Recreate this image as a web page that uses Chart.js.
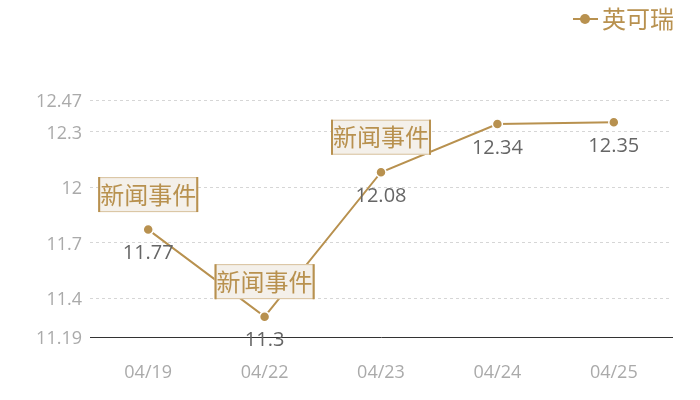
<!DOCTYPE html>
<html lang="en">
<head>
    <meta charset="UTF-8">
    <title>英可瑞</title>
    <script src="https://cdn.jsdelivr.net/npm/chart.js"></script>
    <style>
        html, body { margin: 0; padding: 0; background: #fff; }
        #wrap { width: 700px; height: 400px; }
    </style>
</head>
<body>
<div id="wrap"><canvas id="myChart"></canvas></div>

<script>
    var labels = ['04/19', '04/22', '04/23', '04/24', '04/25'];
    var prices = [11.77, 11.3, 12.08, 12.34, 12.35];
    var yTicks = [11.19, 11.4, 11.7, 12, 12.3, 12.47];
    var eventDays = ['04/19', '04/22', '04/23'];
    var eventText = '新闻事件';
    var seriesName = '英可瑞';

    var gold = '#b8914f';
    var cjk = '"Noto Sans CJK SC", sans-serif';
    var num = '"Open Sans", "Noto Sans CJK SC", sans-serif';

    var extras = {
        id: 'extras',
        afterDatasetsDraw: function(chart) {
            var ctx = chart.ctx;
            var meta = chart.getDatasetMeta(0);
            ctx.save();
            // value labels under each point
            ctx.font = '20px ' + num;
            ctx.fillStyle = '#666';
            ctx.textAlign = 'center';
            ctx.textBaseline = 'middle';
            meta.data.forEach(function(pt, i) {
                ctx.fillText(String(prices[i]), pt.x, pt.y + 24);
            });
            // news event boxes above points
            ctx.font = '24px ' + cjk;
            eventDays.forEach(function(day) {
                var i = labels.indexOf(day);
                var pt = meta.data[i];
                var w = 100, h = 35;
                var x0 = pt.x - w / 2, y0 = pt.y - 35 - h / 2;
                ctx.fillStyle = '#f4f0ea';
                ctx.fillRect(x0, y0, w, h);
                ctx.strokeStyle = '#d8c29e';
                ctx.lineWidth = 1;
                ctx.strokeRect(x0 + 0.5, y0 + 0.5, w - 1, h - 1);
                ctx.strokeStyle = gold;
                ctx.lineWidth = 2;
                ctx.beginPath();
                ctx.moveTo(x0 + 1, y0); ctx.lineTo(x0 + 1, y0 + h);
                ctx.moveTo(x0 + w - 1, y0); ctx.lineTo(x0 + w - 1, y0 + h);
                ctx.stroke();
                ctx.fillStyle = gold;
                ctx.fillText(eventText, pt.x, pt.y - 35);
            });
            // legend, top right
            ctx.strokeStyle = gold;
            ctx.lineWidth = 2;
            ctx.beginPath();
            ctx.moveTo(573, 19); ctx.lineTo(598, 19);
            ctx.stroke();
            ctx.fillStyle = gold;
            ctx.beginPath();
            ctx.arc(585, 19, 5, 0, Math.PI * 2);
            ctx.fill();
            ctx.font = '24px ' + cjk;
            ctx.textAlign = 'left';
            ctx.fillText(seriesName, 602, 19);
            ctx.restore();
        }
    };

    var ctx = document.getElementById('myChart').getContext('2d');
    var myChart = new Chart(ctx, {
        type: 'line',
        data: {
            labels: labels,
            datasets: [{
                label: seriesName,
                data: prices,
                borderColor: gold,
                backgroundColor: gold,
                borderWidth: 2,
                pointRadius: 5,
                pointBorderColor: '#fff',
                pointBorderWidth: 1.5,
                pointBackgroundColor: gold,
                tension: 0
            }]
        },
        options: {
            responsive: true,
            maintainAspectRatio: false,
            animation: false,
            layout: { padding: { top: 100, right: 28, left: 0, bottom: 0 } },
            plugins: {
                legend: { display: false },
                tooltip: { enabled: false }
            },
            scales: {
                x: {
                    offset: true,
                    grid: { display: false },
                    border: { display: true, color: '#333', width: 1 },
                    ticks: { color: '#aaa', font: { family: num, size: 18 }, padding: 17 },
                    afterFit: function(scale) { scale.height = 63; }
                },
                y: {
                    min: 11.19,
                    max: 12.47,
                    afterBuildTicks: function(scale) {
                        scale.ticks = yTicks.map(function(v) { return { value: v }; });
                    },
                    grid: { color: '#d6d6d6', drawTicks: false },
                    border: { display: false, dash: [3, 3] },
                    ticks: {
                        color: '#aaa',
                        font: { family: num, size: 18 },
                        padding: 8,
                        labelOffset: 2,
                        callback: function(v) { return String(v); }
                    },
                    afterFit: function(scale) { scale.width = 90; }
                }
            }
        },
        plugins: [extras]
    });
</script>
</body>
</html>
